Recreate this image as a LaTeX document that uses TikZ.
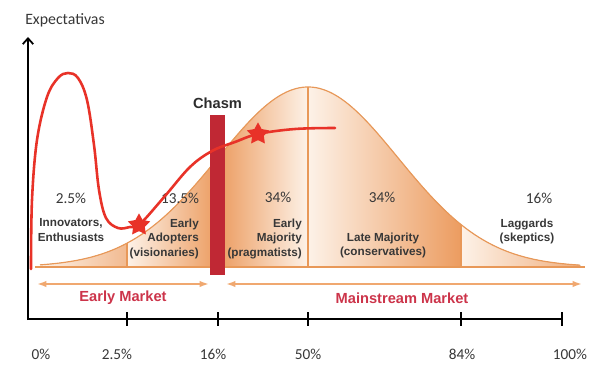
\documentclass[tikz,border=0pt]{standalone}
\usepackage{fontspec}
\setmainfont{Carlito}
\newfontfamily\labelfont{Liberation Sans}
\usetikzlibrary{arrows.meta}
\usetikzlibrary{shapes.geometric}
\usetikzlibrary{calc}

\definecolor{bellline}{RGB}{232,152,88}
\definecolor{bellfill}{RGB}{236,156,96}
\definecolor{bellpale}{RGB}{253,242,232}
\definecolor{hyperred}{RGB}{232,50,40}
\definecolor{chasmred}{RGB}{192,40,52}
\definecolor{marketred}{RGB}{204,52,74}
\definecolor{markettip}{RGB}{240,168,112}
\definecolor{labelgray}{RGB}{55,55,55}

\begin{document}
\begin{tikzpicture}[x=0.03cm, y=-0.03cm, >=Stealth,
    declare function={bell(\t)=267-180*exp(-0.5*((\t-308)/90)^2);},
    share/.style={font=\fontsize{13}{15}\selectfont, text=labelgray},
    group/.style={font=\labelfont\bfseries\fontsize{10}{12.3}\selectfont, text=labelgray, inner sep=0pt},
    market/.style={font=\labelfont\bfseries\fontsize{12.5}{14}\selectfont, text=marketred},
    marketarrow/.style={{Latex[length=8pt,width=5.5pt]}-{Latex[length=8pt,width=5.5pt]}, markettip, line width=1.5pt},
    hype/.style={hyperred, line width=2.2pt, line cap=round, line join=round},
    hypestar/.style={star, star points=5, star point ratio=1.9, fill=hyperred, inner sep=0pt, minimum size=0.7cm},
    tick/.style={black, line width=1.5pt}]

    \useasboundingbox (0,0) rectangle (600,370);

    % bell segments
    \fill[left color=bellpale, right color=bellfill!70] (40,267) -- plot[domain=40:127, samples=30] (\x,{bell(\x)}) -- (127,267) -- cycle;
    \fill[left color=bellpale, right color=bellfill] (127,267) -- plot[domain=127:218, samples=30] (\x,{bell(\x)}) -- (218,267) -- cycle;
    \fill[left color=bellfill, right color=bellpale] (218,267) -- plot[domain=218:308, samples=30] (\x,{bell(\x)}) -- (308,267) -- cycle;
    \fill[left color=bellpale, right color=bellfill] (308,267) -- plot[domain=308:461, samples=40] (\x,{bell(\x)}) -- (461,267) -- cycle;
    \fill[left color=bellpale, right color=bellfill!80] (461,267) -- plot[domain=461:580, samples=30] (\x,{bell(\x)}) -- (580,267) -- cycle;
    \draw[bellline, line width=1pt] plot[domain=40:580, samples=150] (\x,{bell(\x)});
    \coordinate (base-l) at (35,267);
    \coordinate (base-r) at (585,267);
    \draw[bellline, line width=1.3pt] (base-l) -- (base-r);
    \foreach \d in {127,308,461}
        \draw[bellline, line width=0.9pt] (\d,267) -- (\d,{bell(\d)});

    \node[fill=chasmred, minimum width=0.45cm, minimum height=4.8cm, inner sep=0pt, anchor=north] (chasm) at (217.5,115) {};
    \node[font=\labelfont\bfseries\fontsize{12.5}{14}\selectfont, text=labelgray!80!black, inner sep=0pt, anchor=base] (chasm-lbl) at (217.5,108) {Chasm};

    \node[share] (p-inn) at (71,198) {2.5\%};
    \node[share] (p-ea) at (180,198) {13.5\%};
    \node[share] (p-em) at (278,197) {34\%};
    \node[share] (p-lm) at (382,197) {34\%};
    \node[share] (p-lag) at (539,198) {16\%};

    \node[group, align=center, anchor=north] (g-inn) at (71,218.5) {Innovators,\\Enthusiasts};
    \node[group, align=right, anchor=north east] (g-ea) at (199,218.5) {Early\\Adopters\\(visionaries)};
    \node[group, align=right, anchor=north east] (g-em) at (302,218.5) {Early\\Majority\\(pragmatists)};
    \node[group, align=center, anchor=north] (g-lm) at (383,232.5) {Late Majority\\(conservatives)};
    \node[group, align=center, anchor=north] (g-lag) at (527,218.5) {Laggards\\(skeptics)};

    \draw[hype] plot[smooth, tension=0.6] coordinates {(31,269) (32,200) (37,140) (47,97) (58,78) (68,73) (78,78) (87,100) (94,145) (99,190) (106,218) (118,228) (130,227) (140,224) (165,196) (190,167) (212,151) (235,142) (258,134) (295,129) (335,128)};
    \node[hypestar] (star-ea) at (139,225) {};
    \node[hypestar] (star-em) at (258,134) {};

    \coordinate (em-l) at (37,284);
    \coordinate (em-r) at (209,284);
    \coordinate (ms-l) at (226,284);
    \coordinate (ms-r) at (582,284);
    \draw[marketarrow] (em-l) -- (em-r);
    \draw[marketarrow] (ms-l) -- (ms-r);
    \node[market] (early-mkt) at (123,298) {Early Market};
    \node[market] (main-mkt) at (402,298) {Mainstream Market};

    \coordinate (O) at (28,320);
    \coordinate (Y) at (28,37);
    \coordinate (X) at (562,319);
    \draw[tick, -{Straight Barb[length=5pt,width=9pt]}] (O) -- (Y);
    \draw[tick] (O |- X) -- (X);
    \foreach \t in {127,218,308,461,562}
        \draw[tick] (\t,312) -- (\t,326);
    \node[font=\fontsize{13.5}{15}\selectfont, text=labelgray] (ylabel) at (65,20) {Expectativas};

    \node[share] (t0) at (41,354) {0\%};
    \node[share] (t1) at (117,354) {2.5\%};
    \node[share] (t2) at (213,354) {16\%};
    \node[share] (t3) at (308,354) {50\%};
    \node[share] (t4) at (462,354) {84\%};
    \node[share] (t5) at (570,354) {100\%};

\end{tikzpicture}
\end{document}
